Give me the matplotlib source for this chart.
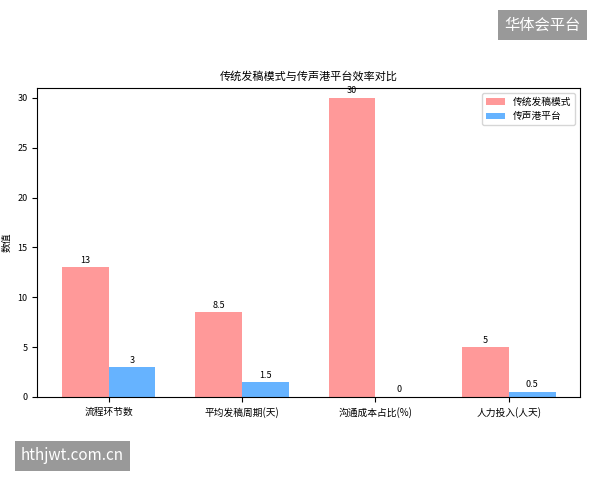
import numpy as np
import matplotlib
matplotlib.use("Agg")
import matplotlib.pyplot as plt

plt.rcParams['font.family'] = ['Noto Sans CJK SC', 'DejaVu Sans']

categories = ["流程环节数", "平均发稿周期(天)", "沟通成本占比(%)", "人力投入(人天)"]
traditional = [13, 8.5, 30, 5]
platform = [3, 1.5, 0, 0.5]
traditional_labels = ["13", "8.5", "30", "5"]
platform_labels = ["3", "1.5", "0", "0.5"]

fig = plt.figure(figsize=(6, 4.8), dpi=100)
ax = fig.add_axes([0.062, 0.173, 0.905, 0.644])

x = np.arange(len(categories))
w = 0.35
b1 = ax.bar(x - w / 2, traditional, w, color="#FF9999", label="传统发稿模式")
b2 = ax.bar(x + w / 2, platform, w, color="#66B3FF", label="传声港平台")
for bar, lab in zip(b1, traditional_labels):
    ax.text(bar.get_x() + bar.get_width() / 2, bar.get_height() + 0.25, lab,
            ha="center", va="bottom", fontsize=6.5)
for bar, lab in zip(b2, platform_labels):
    ax.text(bar.get_x() + bar.get_width() / 2, bar.get_height() + 0.25, lab,
            ha="center", va="bottom", fontsize=6.5)

ax.set_xticks(x)
ax.set_xticklabels(categories, fontsize=7)
ax.tick_params(axis="y", labelsize=6.5)
ax.set_ylabel("数值", fontsize=7)
ax.set_title("传统发稿模式与传声港平台效率对比", fontsize=8)
ax.set_ylim(0, 31)
ax.legend(fontsize=7, loc="upper right")

# watermarks
fig.text(0.968, 0.948, "华体会平台", ha="right", va="center", fontsize=11, color="white",
         bbox=dict(boxstyle="square,pad=0.4", fc="#999999", ec="none"))
fig.text(0.035, 0.05, "hthjwt.com.cn", ha="left", va="center", fontsize=11, color="white",
         bbox=dict(boxstyle="square,pad=0.4", fc="#999999", ec="none"))

fig.savefig("out.png")
